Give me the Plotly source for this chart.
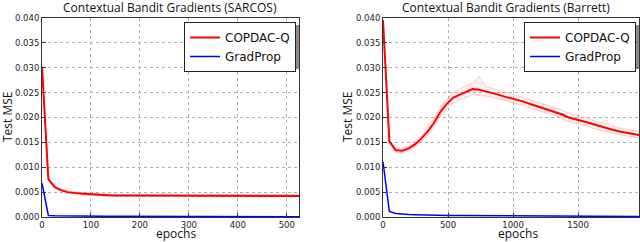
import plotly.graph_objects as go

# ---------------- data ----------------
EPOCHS_SARCOS = [0, 13, 26, 39, 52, 66, 79, 92, 105, 118, 131, 144, 158, 171, 184, 197,
                 210, 223, 236, 249, 262, 276, 289, 302, 315, 328, 341, 354, 367, 381,
                 394, 407, 420, 433, 446, 459, 472, 486, 499, 512, 525]
SARCOS_COPDAC = [0.0302, 0.0076, 0.0060, 0.0054, 0.0050, 0.0048, 0.0047, 0.0046, 0.0045,
                 0.0044, 0.0044, 0.0043, 0.0043, 0.0043, 0.0043, 0.0043, 0.0043, 0.0043,
                 0.0043, 0.0043, 0.0043, 0.0043, 0.0043, 0.0043, 0.0043, 0.0043, 0.0043,
                 0.0043, 0.0043, 0.0043, 0.0043, 0.0043, 0.0043, 0.0043, 0.0043, 0.0043,
                 0.0043, 0.0042, 0.0042, 0.0042, 0.0042]
SARCOS_COPDAC_HI = [0.0302, 0.0078, 0.0062, 0.0056, 0.0052, 0.0050, 0.0049, 0.0048, 0.0047,
                    0.0046, 0.0046, 0.0045, 0.0045, 0.0045, 0.0045, 0.0045, 0.0045, 0.0046,
                    0.0046, 0.0047, 0.0046, 0.0045, 0.0045, 0.0045, 0.0045, 0.0045, 0.0045,
                    0.0045, 0.0045, 0.0045, 0.0045, 0.0045, 0.0045, 0.0045, 0.0045, 0.0046,
                    0.0045, 0.0045, 0.0045, 0.0046, 0.0045]
SARCOS_COPDAC_LO = [0.0302, 0.0074, 0.0058, 0.0052, 0.0048, 0.0046, 0.0045, 0.0044, 0.0043,
                    0.0042, 0.0042, 0.0042, 0.0042, 0.0042, 0.0042, 0.0042, 0.0042, 0.0042,
                    0.0042, 0.0042, 0.0042, 0.0042, 0.0042, 0.0042, 0.0042, 0.0042, 0.0042,
                    0.0042, 0.0042, 0.0042, 0.0042, 0.0042, 0.0042, 0.0042, 0.0042, 0.0042,
                    0.0042, 0.0041, 0.0041, 0.0041, 0.0041]
SARCOS_GRADPROP = [0.0068, 0.00032, 0.00025, 0.00022, 0.0002, 0.00018, 0.00017, 0.00016,
                   0.00015, 0.00014, 0.00014, 0.00013, 0.00013, 0.00012, 0.00012, 0.00012,
                   0.00011, 0.00011, 0.00011, 0.0001, 0.0001, 0.0001, 0.0001, 0.0001,
                   0.00009, 0.00009, 0.00009, 0.00009, 0.00008, 0.00008, 0.00008, 0.00008,
                   0.00008, 0.00007, 0.00007, 0.00007, 0.00007, 0.00007, 0.00006, 0.00006,
                   0.00006]

EPOCHS_BARRETT = [0, 49, 98, 148, 197, 246, 295, 344, 394, 443, 492, 541, 590, 640, 689,
                  738, 787, 836, 886, 935, 984, 1033, 1082, 1132, 1181, 1230, 1279, 1328,
                  1378, 1427, 1476, 1525, 1574, 1624, 1673, 1722, 1771, 1820, 1870, 1919, 1968]
BARRETT_COPDAC = [0.0396, 0.0152, 0.0134, 0.0133, 0.0138, 0.0146, 0.0158, 0.0172, 0.0190,
                  0.0212, 0.0228, 0.0240, 0.0246, 0.0252, 0.0257, 0.0256, 0.0253, 0.0250,
                  0.0246, 0.0242, 0.0239, 0.0236, 0.0232, 0.0227, 0.0223, 0.0219, 0.0215,
                  0.0211, 0.0206, 0.0200, 0.0197, 0.0193, 0.0190, 0.0186, 0.0182, 0.0179,
                  0.0175, 0.0172, 0.0170, 0.0168, 0.0165]
BARRETT_COPDAC_HI = [0.0396, 0.0155, 0.0138, 0.0137, 0.0143, 0.0152, 0.0165, 0.0180, 0.0198,
                     0.0221, 0.0238, 0.0251, 0.0257, 0.0264, 0.0268, 0.0283, 0.0263, 0.0259,
                     0.0255, 0.0250, 0.0247, 0.0244, 0.0240, 0.0235, 0.0231, 0.0227, 0.0223,
                     0.0219, 0.0215, 0.0209, 0.0205, 0.0201, 0.0198, 0.0194, 0.0190, 0.0187,
                     0.0182, 0.0179, 0.0177, 0.0175, 0.0172]
BARRETT_COPDAC_LO = [0.0396, 0.0149, 0.0130, 0.0129, 0.0133, 0.0140, 0.0151, 0.0164, 0.0182,
                     0.0203, 0.0218, 0.0229, 0.0235, 0.0240, 0.0246, 0.0245, 0.0243, 0.0241,
                     0.0237, 0.0234, 0.0231, 0.0228, 0.0224, 0.0219, 0.0215, 0.0211, 0.0207,
                     0.0203, 0.0197, 0.0191, 0.0189, 0.0185, 0.0182, 0.0178, 0.0174, 0.0171,
                     0.0168, 0.0165, 0.0163, 0.0161, 0.0158]
BARRETT_GRADPROP = [0.0111, 0.0011, 0.0007, 0.00055, 0.0005, 0.00045, 0.0004, 0.00038,
                    0.00036, 0.00034, 0.00032, 0.0003, 0.00029, 0.00028, 0.00027, 0.00026,
                    0.00025, 0.00024, 0.00023, 0.00022, 0.00021, 0.0002, 0.0002, 0.00019,
                    0.00018, 0.00018, 0.00017, 0.00016, 0.00016, 0.00015, 0.00015, 0.00014,
                    0.00014, 0.00013, 0.00013, 0.00012, 0.00012, 0.00011, 0.00011, 0.0001,
                    0.0001]

TITLES = ["Contextual Bandit Gradients (SARCOS)", "Contextual Bandit Gradients (Barrett)"]
Y_TICKS = [0.0, 0.005, 0.010, 0.015, 0.020, 0.025, 0.030, 0.035, 0.040]
X_TICKS_SARCOS = [0, 100, 200, 300, 400, 500]
X_TICKS_BARRETT = [0, 500, 1000, 1500]
SERIES_NAMES = ["COPDAC-Q", "GradProp"]

RED = "#ff0000"
BLUE = "#0000ff"
BAND_LINE = "rgba(255,80,80,0.35)"
BAND_FILL = "rgba(255,120,120,0.12)"

W, H = 640, 242
fig = go.Figure()

panels = [
    ("x", "y", "legend", EPOCHS_SARCOS, SARCOS_COPDAC, SARCOS_COPDAC_HI, SARCOS_COPDAC_LO, SARCOS_GRADPROP),
    ("x2", "y2", "legend2", EPOCHS_BARRETT, BARRETT_COPDAC, BARRETT_COPDAC_HI, BARRETT_COPDAC_LO, BARRETT_GRADPROP),
]
for xa, ya, lg, ep, mean, hi, lo, gp in panels:
    fig.add_trace(go.Scatter(x=ep, y=lo, xaxis=xa, yaxis=ya, mode="lines",
                             line=dict(color=BAND_LINE, width=0.8), showlegend=False, hoverinfo="skip"))
    fig.add_trace(go.Scatter(x=ep, y=hi, xaxis=xa, yaxis=ya, mode="lines", fill="tonexty",
                             fillcolor=BAND_FILL, line=dict(color=BAND_LINE, width=0.8),
                             showlegend=False, hoverinfo="skip"))
    fig.add_trace(go.Scatter(x=ep, y=mean, xaxis=xa, yaxis=ya, mode="lines", name=SERIES_NAMES[0],
                             line=dict(color=RED, width=2), legend=lg))
    fig.add_trace(go.Scatter(x=ep, y=gp, xaxis=xa, yaxis=ya, mode="lines", name=SERIES_NAMES[1],
                             line=dict(color=BLUE, width=1.5), legend=lg))

TICKFONT = dict(family="DejaVu Sans", size=8.5, color="#222")
LABELFONT = dict(family="Open Sans", size=12, color="#111")
TITLEFONT = dict(family="Open Sans", size=12, color="#111")

common_x = dict(showline=True, mirror=True, linecolor="#333", linewidth=1, ticks="inside",
                ticklen=4, tickcolor="#333", showgrid=True, gridcolor="#b0b0b0", griddash="dot",
                gridwidth=1, tickfont=TICKFONT, zeroline=False, automargin=False)
common_y = dict(showline=True, mirror=True, linecolor="#333", linewidth=1, ticks="inside",
                ticklen=4, tickcolor="#333", showgrid=True, gridcolor="#b0b0b0", griddash="dot",
                gridwidth=1, tickfont=TICKFONT, zeroline=False, range=[0, 0.04], automargin=False,
                tickvals=Y_TICKS, tickformat=".3f")

LEGEND_COMMON = dict(xanchor="right", yanchor="top", bordercolor="#222", borderwidth=1,
                     bgcolor="white", font=dict(family="DejaVu Sans", size=12, color="#111"),
                     itemwidth=30, tracegroupgap=0, traceorder="normal")

def label(text, x, y, angle=0, font=LABELFONT):
    return dict(text=text, x=x / W, y=1 - y / H, xref="paper", yref="paper", showarrow=False,
                textangle=angle, xanchor="center", yanchor="middle", font=font)

def shadow(x0, y0, x1, y1):
    return dict(type="rect", xref="paper", yref="paper", x0=x0 / W, x1=x1 / W,
                y0=1 - y1 / H, y1=1 - y0 / H, fillcolor="rgba(0,0,0,0.45)",
                line=dict(width=0), layer="above")

fig.update_layout(
    template="none",
    width=W, height=H,
    margin=dict(l=0, r=0, t=0, b=0, autoexpand=False),
    paper_bgcolor="white", plot_bgcolor="white",
    xaxis=dict(domain=[42 / W, 299 / W], range=[0, 525], tickvals=X_TICKS_SARCOS, anchor="y", **common_x),
    yaxis=dict(domain=[1 - 217 / H, 1 - 18 / H], anchor="x", **common_y),
    xaxis2=dict(domain=[383 / W, 639 / W], range=[0, 1968], tickvals=X_TICKS_BARRETT, anchor="y2", **common_x),
    yaxis2=dict(domain=[1 - 217 / H, 1 - 18 / H], anchor="x2", **common_y),
    legend=dict(x=296 / W, y=1 - 22 / H, **LEGEND_COMMON),
    legend2=dict(x=636 / W, y=1 - 22 / H, **LEGEND_COMMON),
    shapes=[shadow(190, 25, 299, 69), shadow(530, 25, 639, 69)],
    annotations=[
        label(TITLES[0], 170, 7, font=TITLEFONT),
        label(TITLES[1], 506, 7, font=TITLEFONT),
        label("Test MSE", 7, 117, -90),
        label("Test MSE", 347, 117, -90),
        label("epochs", 176, 233.5),
        label("epochs", 518, 233.5),
    ],
)

fig.write_html("out.html", config={"displayModeBar": False},
               post_script="document.body.style.margin='0';document.body.style.padding='0';")
